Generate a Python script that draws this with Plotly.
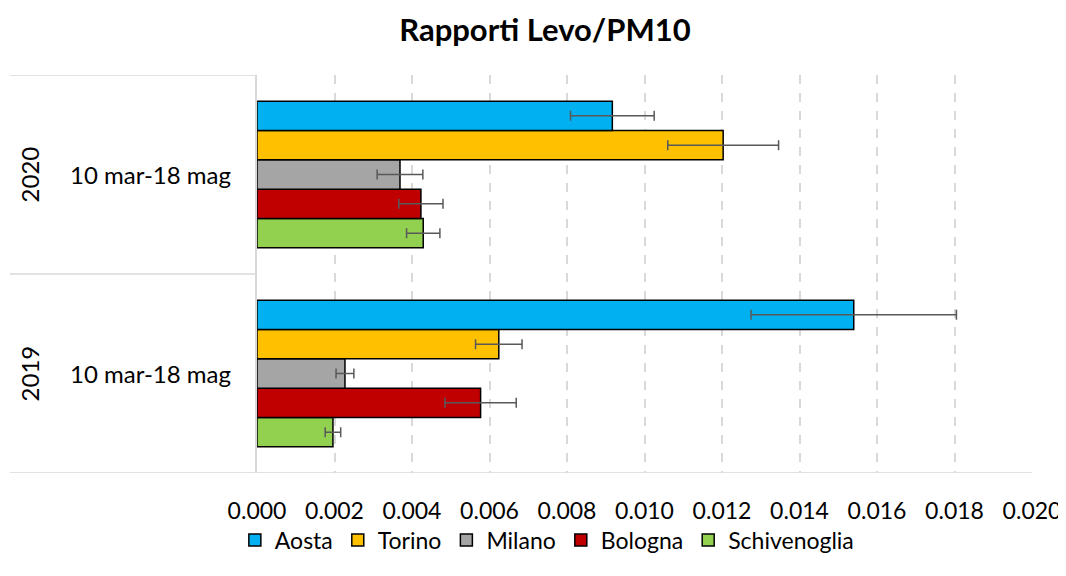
import plotly.graph_objects as go

years = ["2019", "2020"]
period = "10 mar-18 mag"
stations = ["Aosta", "Torino", "Milano", "Bologna", "Schivenoglia"]
colors = ["#00B0F0", "#FFC000", "#A5A5A5", "#C00000", "#92D050"]
# values per station: [2019, 2020]
values = {
    "Aosta": [0.01540, 0.00917],
    "Torino": [0.00624, 0.01203],
    "Milano": [0.00227, 0.00369],
    "Bologna": [0.00577, 0.00423],
    "Schivenoglia": [0.00196, 0.00429],
}
errors = {
    "Aosta": [0.00265, 0.00108],
    "Torino": [0.00060, 0.00143],
    "Milano": [0.00023, 0.00059],
    "Bologna": [0.00092, 0.00057],
    "Schivenoglia": [0.00020, 0.00043],
}
xticks = [0.000, 0.002, 0.004, 0.006, 0.008, 0.010, 0.012, 0.014, 0.016, 0.018, 0.020]

FONT = "Lato, Carlito, Calibri, sans-serif"
ypos = list(range(len(years)))

fig = go.Figure()
for i in reversed(range(len(stations))):
    s = stations[i]
    fig.add_trace(go.Bar(
        name=s, y=ypos, x=values[s], orientation="h",
        marker=dict(color=colors[i], line=dict(color="#000000", width=1.5)),
        error_x=dict(type="data", array=errors[s], color="#595959", thickness=1.5, width=5),
        legendrank=i + 1,
    ))

H = 548
W = 1058
fig.update_layout(
    width=W, height=H,
    paper_bgcolor="white", plot_bgcolor="white",
    margin=dict(l=249, r=34, t=67, b=H - 465),
    barmode="group", bargap=0.263, bargroupgap=0,
    title=dict(text="<b>Rapporti Levo/PM10</b>", x=537 / W, xref="container", xanchor="center",
               y=1 - 22 / H, yanchor="middle",
               font=dict(family=FONT, size=31, color="#000000")),
    font=dict(family=FONT, size=23, color="#000000"),
    legend=dict(orientation="h", x=0.374, xanchor="center",
                yref="container", y=1 - 532 / H, yanchor="middle",
                font=dict(family=FONT, size=23, color="#000000"), itemwidth=30,
                tracegroupgap=0),
    showlegend=True,
)
fig.update_xaxes(
    range=[0, 0.020], tickvals=xticks, tickformat=".3f", automargin=False,
    showgrid=True, gridcolor="#D9D9D9", griddash="dash", gridwidth=1.5,
    zeroline=False, showline=False, ticks="", ticklabelstandoff=22,
    tickfont=dict(family=FONT, size=23, color="#000000"),
)
fig.update_yaxes(
    range=[-0.5, 1.5], showticklabels=False, showgrid=False, zeroline=False, automargin=False,
    showline=True, linecolor="#D9D9D9", linewidth=1.5, ticks="",
)

# category axis separators
line = dict(color="#D9D9D9", width=1.5)
fig.add_shape(type="line", xref="paper", yref="y", x0=-0.319, x1=0, y0=1.5, y1=1.5, line=line)
fig.add_shape(type="line", xref="paper", yref="y", x0=-0.319, x1=0, y0=0.5, y1=0.5, line=line)
fig.add_shape(type="line", xref="paper", yref="y", x0=-0.319, x1=1, y0=-0.5, y1=-0.5, line=line)

for yi, yr in enumerate(years):
    fig.add_annotation(text=period, xref="paper", yref="y", x=-0.137, y=yi, xanchor="center",
                       yanchor="middle", showarrow=False, font=dict(family=FONT, size=24, color="#000000"))
    fig.add_annotation(text=yr, xref="paper", yref="y", x=-0.293, y=yi, xanchor="center",
                       yanchor="middle", textangle=-90, showarrow=False,
                       font=dict(family=FONT, size=24, color="#000000"))

fig.write_html("out.html")
